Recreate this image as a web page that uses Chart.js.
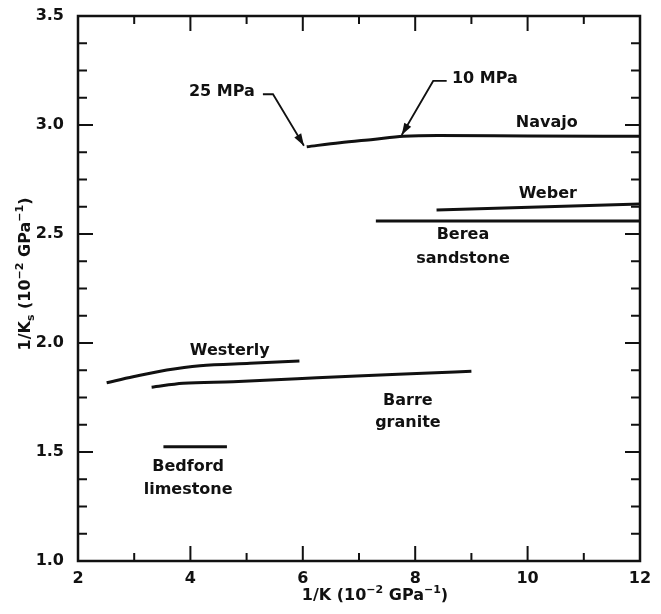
<!DOCTYPE html>
<html lang="en">
<head>
    <meta charset="UTF-8">
    <title>1/Ks vs 1/K</title>
    <style>
        body { margin: 0; background: white; }
        #grafico { display: block; }
    </style>
</head>
<body>
    <canvas id="grafico" width="661" height="614"></canvas>

    <script src="https://cdn.jsdelivr.net/npm/chart.js"></script>
    <script>
        // data (x = 1/K, y = 1/Ks, both in 10^-2 GPa^-1)
        const navajoX = [6.07, 6.66, 7.25, 7.79, 8.4, 10.0, 12.0];
        const navajoY = [2.900, 2.919, 2.934, 2.948, 2.952, 2.950, 2.948];
        const weberX = [8.38, 12.0];
        const weberY = [2.610, 2.638];
        const bereaX = [7.30, 12.0];
        const bereaY = [2.560, 2.560];
        const westerlyX = [2.51, 2.98, 3.58, 4.17, 5.06, 5.94];
        const westerlyY = [1.818, 1.845, 1.876, 1.896, 1.907, 1.917];
        const barreX = [3.31, 3.87, 4.76, 5.90, 6.96, 8.14, 9.00];
        const barreY = [1.797, 1.815, 1.822, 1.836, 1.849, 1.861, 1.870];
        const bedfordX = [3.52, 4.65];
        const bedfordY = [1.524, 1.524];

        const xTicks = [2, 4, 6, 8, 10, 12];
        const yTicks = [1.0, 1.5, 2.0, 2.5, 3.0, 3.5];

        // text labels placed in data units
        const labels = [
            { text: '25 MPa', x: 4.56, y: 3.153 },
            { text: '10 MPa', x: 9.24, y: 3.211 },
            { text: 'Navajo', x: 10.34, y: 3.012 },
            { text: 'Weber', x: 10.36, y: 2.683 },
            { text: 'Berea', x: 8.85, y: 2.495 },
            { text: 'sandstone', x: 8.85, y: 2.385 },
            { text: 'Westerly', x: 4.70, y: 1.965 },
            { text: 'Bedford', x: 3.96, y: 1.433 },
            { text: 'limestone', x: 3.96, y: 1.326 },
            { text: 'Barre', x: 7.87, y: 1.734 },
            { text: 'granite', x: 7.87, y: 1.632 }
        ];
        // leader arrows (last point is the tip)
        const arrows = [
            [[5.29, 3.141], [5.47, 3.141], [6.02, 2.905]],
            [[8.56, 3.202], [8.32, 3.202], [7.76, 2.954]]
        ];

        const FONT = '"DejaVu Sans", Arial, sans-serif';

        function serie(xs, ys) {
            return {
                data: xs.map((x, i) => ({ x: x, y: ys[i] })),
                showLine: true,
                borderColor: '#111',
                borderWidth: 3,
                pointRadius: 0,
                cubicInterpolationMode: 'monotone',
                borderCapStyle: 'butt'
            };
        }

        // draws a sequence of text runs (with superscript/subscript) centered on x
        function drawRuns(ctx, runs, cx, cy) {
            const big = 'bold 16px ' + FONT;
            const small = 'bold 11px ' + FONT;
            let total = 0;
            runs.forEach(r => {
                ctx.font = (r.sup || r.sub) ? small : big;
                r.w = ctx.measureText(r.t).width;
                total += r.w;
            });
            let x = cx - total / 2;
            ctx.textAlign = 'left';
            ctx.textBaseline = 'middle';
            runs.forEach(r => {
                ctx.font = (r.sup || r.sub) ? small : big;
                let dy = 0;
                if (r.sup) dy = -6;
                if (r.sub) dy = 5;
                ctx.fillText(r.t, x, cy + dy);
                x += r.w;
            });
        }

        const moldura = {
            id: 'moldura',
            afterDraw(chart) {
                const ctx = chart.ctx;
                const a = chart.chartArea;
                const sx = chart.scales.x;
                const sy = chart.scales.y;
                ctx.save();
                ctx.strokeStyle = '#111';
                ctx.fillStyle = '#111';

                // frame
                ctx.lineWidth = 2.5;
                ctx.strokeRect(a.left, a.top, a.right - a.left, a.bottom - a.top);

                // inward ticks
                ctx.lineWidth = 2;
                for (let v = 2; v <= 12; v += 1) {
                    const px = sx.getPixelForValue(v);
                    const len = v % 2 === 0 ? 15 : 8;
                    ctx.beginPath();
                    ctx.moveTo(px, a.bottom); ctx.lineTo(px, a.bottom - len);
                    ctx.moveTo(px, a.top); ctx.lineTo(px, a.top + len);
                    ctx.stroke();
                }
                for (let i = 0; i <= 20; i++) {
                    const v = 1 + i * 0.125;
                    const py = sy.getPixelForValue(v);
                    const len = i % 4 === 0 ? 15 : 9;
                    ctx.beginPath();
                    ctx.moveTo(a.left, py); ctx.lineTo(a.left + len, py);
                    ctx.moveTo(a.right, py); ctx.lineTo(a.right - len, py);
                    ctx.stroke();
                }

                // labels
                ctx.font = 'bold 16px ' + FONT;
                ctx.textAlign = 'center';
                ctx.textBaseline = 'middle';
                labels.forEach(l => {
                    ctx.fillText(l.text, sx.getPixelForValue(l.x), sy.getPixelForValue(l.y));
                });

                // arrows
                ctx.lineWidth = 1.8;
                arrows.forEach(pts => {
                    const p = pts.map(q => [sx.getPixelForValue(q[0]), sy.getPixelForValue(q[1])]);
                    ctx.beginPath();
                    ctx.moveTo(p[0][0], p[0][1]);
                    for (let i = 1; i < p.length; i++) ctx.lineTo(p[i][0], p[i][1]);
                    ctx.stroke();
                    const tip = p[p.length - 1];
                    const prev = p[p.length - 2];
                    const ang = Math.atan2(tip[1] - prev[1], tip[0] - prev[0]);
                    const L = 12, W = 4;
                    ctx.beginPath();
                    ctx.moveTo(tip[0], tip[1]);
                    ctx.lineTo(tip[0] - L * Math.cos(ang) + W * Math.sin(ang), tip[1] - L * Math.sin(ang) - W * Math.cos(ang));
                    ctx.lineTo(tip[0] - L * Math.cos(ang) - W * Math.sin(ang), tip[1] - L * Math.sin(ang) + W * Math.cos(ang));
                    ctx.closePath();
                    ctx.fill();
                });

                // axis titles
                drawRuns(ctx, [
                    { t: '1/K (10' }, { t: '−2', sup: true }, { t: ' GPa' }, { t: '−1', sup: true }, { t: ')' }
                ], 375, 596);

                ctx.save();
                ctx.translate(26, 274);
                ctx.rotate(-Math.PI / 2);
                drawRuns(ctx, [
                    { t: '1/K' }, { t: 's', sub: true }, { t: ' (10' }, { t: '−2', sup: true },
                    { t: ' GPa' }, { t: '−1', sup: true }, { t: ')' }
                ], 0, 0);
                ctx.restore();

                ctx.restore();
            }
        };

        const ctx = document.getElementById('grafico').getContext('2d');
        const grafico = new Chart(ctx, {
            type: 'scatter',
            data: {
                datasets: [
                    serie(navajoX, navajoY),
                    serie(weberX, weberY),
                    serie(bereaX, bereaY),
                    serie(westerlyX, westerlyY),
                    serie(barreX, barreY),
                    serie(bedfordX, bedfordY)
                ]
            },
            options: {
                responsive: false,
                animation: false,
                layout: { padding: { top: 16, right: 21, left: 0, bottom: 0 } },
                plugins: {
                    legend: { display: false },
                    tooltip: { enabled: false }
                },
                scales: {
                    x: {
                        type: 'linear',
                        min: 2,
                        max: 12,
                        afterFit: s => { s.height = 53; },
                        afterBuildTicks: s => { s.ticks = xTicks.map(v => ({ value: v })); },
                        grid: { display: false },
                        border: { display: false },
                        ticks: {
                            color: '#111',
                            padding: 0,
                            maxRotation: 0,
                            font: { family: FONT, size: 16, weight: 'bold' },
                            callback: v => String(v)
                        }
                    },
                    y: {
                        type: 'linear',
                        min: 1,
                        max: 3.5,
                        afterFit: s => { s.width = 78; },
                        afterBuildTicks: s => { s.ticks = yTicks.map(v => ({ value: v })); },
                        grid: { display: false },
                        border: { display: false },
                        ticks: {
                            color: '#111',
                            padding: 6,
                            font: { family: FONT, size: 16, weight: 'bold' },
                            callback: v => Number(v).toFixed(1)
                        }
                    }
                }
            },
            plugins: [moldura]
        });
    </script>
</body>
</html>
